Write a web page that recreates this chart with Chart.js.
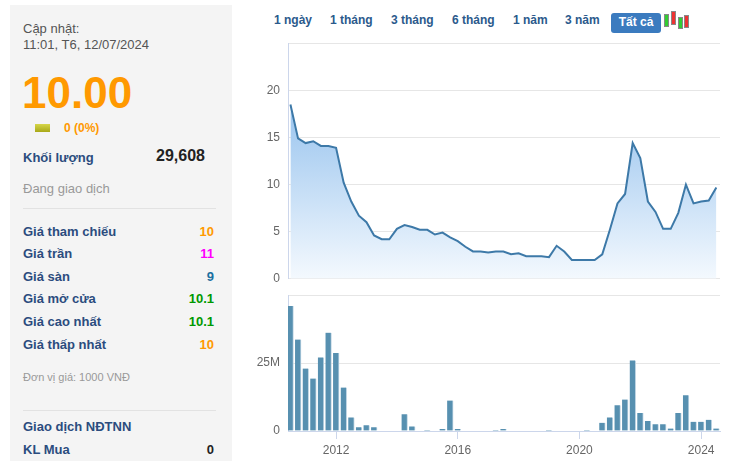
<!DOCTYPE html>
<html><head><meta charset="utf-8">
<script src="https://cdn.jsdelivr.net/npm/chart.js@4"></script>
<style>
body{margin:0;width:741px;height:461px;overflow:hidden;background:#fff;font-family:Arial,"Liberation Sans",sans-serif;position:relative}
.p{position:absolute;left:10px;top:5px;width:222px;height:470px;background:#f4f4f4}
.t{position:absolute;white-space:nowrap}
.lb{left:23px;font-weight:bold;font-size:13px;color:#2b4c7e}
.v{right:527px;font-weight:bold;font-size:13px;text-align:right}
.hr{position:absolute;left:23px;width:193px;height:1px;background:#e2e2e2}
.btn{position:absolute;top:13px;font-size:12px;font-weight:bold;color:#2b5a8c}
</style></head><body>
<div class="p"></div>
<div class="t" style="left:23px;top:21px;font-size:13px;color:#555;line-height:16px">Cập nhật:<br>11:01, T6, 12/07/2024</div>
<div class="t" style="left:22px;top:68px;font-size:44px;font-weight:bold;color:#f90">10.00</div>
<div class="t" style="left:35px;top:124px;width:15px;height:8px;background:linear-gradient(#d6d64a,#a8a818)"></div>
<div class="t" style="left:64px;top:121px;font-size:12px;font-weight:bold;color:#f90">0 (0%)</div>
<div class="t lb" style="top:150px">Khối lượng</div>
<div class="t" style="right:536px;top:147px;font-size:16px;font-weight:bold;color:#222">29,608</div>
<div class="t" style="left:23px;top:181px;font-size:13px;color:#999">Đang giao dịch</div>
<div class="hr" style="top:208px"></div>
<div class="t lb" style="top:224px">Giá tham chiếu</div><div class="t v" style="top:224px;color:#f90">10</div>
<div class="t lb" style="top:246px">Giá trần</div><div class="t v" style="top:246px;color:#f0f">11</div>
<div class="t lb" style="top:269px">Giá sàn</div><div class="t v" style="top:269px;color:#1a6fa0">9</div>
<div class="t lb" style="top:291px">Giá mở cửa</div><div class="t v" style="top:291px;color:#090">10.1</div>
<div class="t lb" style="top:314px">Giá cao nhất</div><div class="t v" style="top:314px;color:#090">10.1</div>
<div class="t lb" style="top:337px">Giá thấp nhất</div><div class="t v" style="top:337px;color:#f90">10</div>
<div class="t" style="left:23px;top:371px;font-size:11px;color:#999">Đơn vị giá: 1000 VNĐ</div>
<div class="hr" style="top:410px"></div>
<div class="t lb" style="top:419px">Giao dịch NĐTNN</div>
<div class="t lb" style="top:442px">KL Mua</div><div class="t v" style="top:442px;color:#222">0</div>

<div class="btn" style="left:274px">1 ngày</div>
<div class="btn" style="left:330px">1 tháng</div>
<div class="btn" style="left:391px">3 tháng</div>
<div class="btn" style="left:452px">6 tháng</div>
<div class="btn" style="left:513px">1 năm</div>
<div class="btn" style="left:565px">3 năm</div>
<div class="t" style="left:611px;top:13px;width:50px;height:20px;background:#3b7bbf;border-radius:3px;color:#fff;font-size:12px;font-weight:bold;text-align:center;line-height:18px">Tất cả</div>
<div class="t" style="left:664px;top:14px;width:3px;height:11px;background:#3c3;border:1px solid #888"></div>
<div class="t" style="left:671px;top:11px;width:3px;height:12px;background:#e33;border:1px solid #888"></div>
<div class="t" style="left:678px;top:17px;width:3px;height:10px;background:#3c3;border:1px solid #888"></div>
<div class="t" style="left:684px;top:15px;width:3px;height:11px;background:#e33;border:1px solid #888"></div>

<div style="position:absolute;left:240px;top:28px;width:490px;height:266px"><canvas id="c1"></canvas></div>
<div style="position:absolute;left:240px;top:280px;width:490px;height:181px"><canvas id="c2"></canvas></div>
<script>
const startYear = 2010.5, step = 0.25;
const prices = [18.5,14.9,14.4,14.6,14.1,14.1,13.9,10.2,8.2,6.7,6.0,4.6,4.2,4.2,5.3,5.7,5.5,5.2,5.2,4.7,4.9,4.4,4.0,3.4,2.9,2.9,2.8,2.9,2.9,2.6,2.7,2.4,2.4,2.4,2.3,3.5,2.9,2.0,2.0,2.0,2.0,2.6,5.2,8.0,9.0,14.4,12.8,8.2,7.1,5.3,5.3,7.0,10.0,8.0,8.2,8.3,9.7];
const volumes = [46,33.7,23,19.3,27.1,36.2,28.7,16,5,1.4,2.1,1.4,0,0,0,6.2,1.7,0,0.4,0,0.7,11.2,0.7,0,0,0,0,0.4,0.7,0,0,0,0,0,0.4,0,0,0,0,0.4,0,3,5,9.5,11.6,26,6.6,3.7,2.5,2.5,0.9,6.6,13.2,3.4,3.4,4.1,0.9];
const yearTicks = [2012,2016,2020,2024];
const priceTicks = [0,5,10,15,20,25];
const volTicks = [0,25,50];
const xs = prices.map((_,i)=>startYear+i*step);
const font = {family:'Arial, "Liberation Sans"', size:12};
const xBase = {type:'linear',offset:false,min:2010.42,max:2024.62,afterBuildTicks:a=>{a.ticks=yearTicks.map(v=>({value:v}))}};
Chart.defaults.animation=false;
new Chart(document.getElementById('c1'),{type:'line',
 data:{datasets:[{data:xs.map((x,i)=>({x,y:prices[i]})),borderColor:'#3d79a8',borderWidth:2,pointRadius:0,tension:0,fill:'origin',
  backgroundColor:(ctx)=>{const a=ctx.chart.chartArea;if(!a)return'#9cc5ee';const g=ctx.chart.ctx.createLinearGradient(0,a.top+40,0,a.bottom);g.addColorStop(0,'#8dbdec');g.addColorStop(1,'#f4f9fe');return g;}}]},
 options:{responsive:true,maintainAspectRatio:false,layout:{padding:{top:0,bottom:0,right:10}},
  plugins:{legend:{display:false},tooltip:{enabled:false}},
  scales:{x:{...xBase,display:false},
   y:{min:0,max:25,afterBuildTicks:a=>{a.ticks=priceTicks.map(v=>({value:v}))},afterFit:s=>{s.width=48},
    ticks:{color:'#666',font,padding:8,callback:v=>v===25?'':v},grid:{color:'#e6e6e6',drawTicks:false},border:{color:'#ccd6eb'}}}}});
new Chart(document.getElementById('c2'),{type:'bar',
 data:{datasets:[{data:xs.map((x,i)=>({x,y:volumes[i]})),backgroundColor:'#5790b0',borderColor:'#c0d6e4',borderWidth:{left:0,right:1,top:0,bottom:0},barThickness:6}]},
 options:{responsive:true,maintainAspectRatio:false,layout:{padding:{top:0,right:10}},
  plugins:{legend:{display:false},tooltip:{enabled:false}},
  scales:{x:{...xBase,afterFit:s=>{s.height=30},ticks:{color:'#666',font,padding:4,callback:v=>String(v)},grid:{offset:false,drawOnChartArea:false,color:'#ccd6eb',tickLength:8},border:{color:'#ccd6eb'}},
   y:{min:0,max:50,afterBuildTicks:a=>{a.ticks=volTicks.map(v=>({value:v}))},afterFit:s=>{s.width=48},
    ticks:{color:'#666',font,padding:8,callback:v=>v===0?'0':v===25?'25M':''},grid:{color:'#e6e6e6',drawTicks:false},border:{color:'#ccd6eb'}}}}});
</script></body></html>
